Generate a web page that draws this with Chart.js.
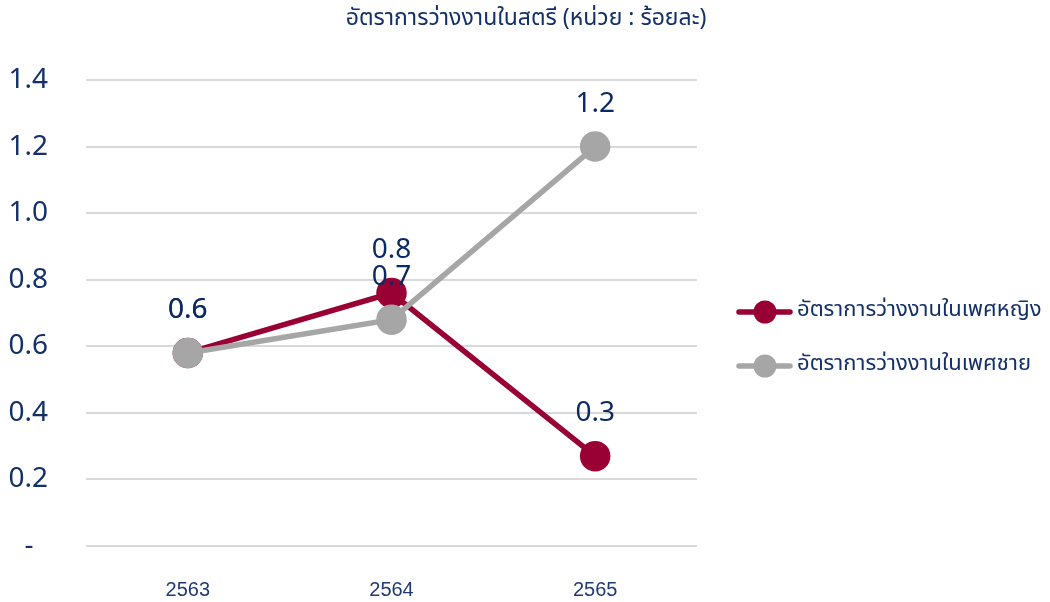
<!DOCTYPE html>
<html>
<head>
<meta charset="utf-8">
<script src="https://cdn.jsdelivr.net/npm/chart.js@4.4.1/dist/chart.umd.min.js"></script>
<style>
  html, body { margin: 0; padding: 0; background: #ffffff; }
  #wrap { width: 1050px; height: 602px; }
</style>
</head>
<body>
<div id="wrap"><canvas id="unemp"></canvas></div>
<script>
var years = ['2563', '2564', '2565'];
var female = [0.58, 0.76, 0.27];
var male = [0.58, 0.68, 1.20];
var seriesNames = ['อัตราการว่างงานในเพศหญิง', 'อัตราการว่างงานในเพศชาย'];
var titleText = 'อัตราการว่างงานในสตรี (หน่วย : ร้อยละ)';

var navy = '#13306b';
var thaiFont = "'Noto Sans Thai', 'Noto Sans', Tahoma, sans-serif";

// value labels above every point
var pointLabels = {
  id: 'pointLabels',
  afterDatasetsDraw: function(chart){
    var ctx = chart.ctx;
    ctx.save();
    ctx.font = "28px 'Noto Sans', sans-serif";
    ctx.fillStyle = '#0b2a63';
    ctx.textAlign = 'center';
    ctx.textBaseline = 'middle';
    chart.data.datasets.forEach(function(ds, i){
      var meta = chart.getDatasetMeta(i);
      meta.data.forEach(function(pt, j){
        ctx.fillText(ds.data[j].toFixed(1), pt.x, pt.y - 43);
      });
    });
    ctx.restore();
  }
};

// title centred on the whole canvas, legend on the right (line with a dot + name)
var sideLegend = {
  id: 'sideLegend',
  afterDraw: function(chart){
    var ctx = chart.ctx;
    var area = chart.chartArea;
    var x0 = area.right + 40;
    ctx.save();
    ctx.fillStyle = navy;
    ctx.font = "23px " + thaiFont;
    ctx.textAlign = 'center';
    ctx.textBaseline = 'middle';
    ctx.fillText(titleText, chart.width / 2 + 1, 20);

    chart.data.datasets.forEach(function(ds, i){
      var y = area.top + 232 + i * 54;
      ctx.strokeStyle = ds.borderColor;
      ctx.fillStyle = ds.borderColor;
      ctx.lineWidth = 5.5;
      ctx.lineCap = 'round';
      ctx.beginPath();
      ctx.moveTo(x0 + 2, y);
      ctx.lineTo(x0 + 53, y);
      ctx.stroke();
      ctx.beginPath();
      ctx.arc(x0 + 28, y, 11.5, 0, Math.PI * 2);
      ctx.fill();
      ctx.fillStyle = navy;
      ctx.font = "22px " + thaiFont;
      ctx.textAlign = 'left';
      ctx.textBaseline = 'middle';
      ctx.fillText(ds.label, x0 + 60, y);
    });
    ctx.restore();
  }
};

var ctx = document.getElementById('unemp');
var myChart = new Chart(ctx, {
  type: 'line',
  data: {
    labels: years,
    datasets: [{
      label: seriesNames[0],
      data: female,
      borderColor: '#990033',
      backgroundColor: '#990033',
      borderWidth: 5.5,
      pointRadius: 12.5,
      pointHoverRadius: 12.5,
      order: 1
    }, {
      label: seriesNames[1],
      data: male,
      borderColor: '#a6a6a6',
      backgroundColor: '#a6a6a6',
      borderWidth: 5.5,
      pointRadius: 12.5,
      pointHoverRadius: 12.5,
      order: 0
    }]
  },
  options: {
    responsive: true,
    maintainAspectRatio: false,
    animation: false,
    layout: { padding: { left: 8, right: 353, top: 80, bottom: 0 } },
    scales: {
      x: {
        offset: true,
        grid: { display: false, drawTicks: false },
        border: { display: false },
        ticks: {
          color: '#1f3a75',
          padding: 32,
          font: { family: "'Liberation Sans', Arial, sans-serif", size: 20 }
        },
        afterFit: function(s){ s.height = 56; }
      },
      y: {
        min: 0,
        max: 1.4,
        grid: { color: '#d9d9d9', lineWidth: 2, drawTicks: false },
        border: { display: false },
        ticks: {
          stepSize: 0.2,
          color: navy,
          padding: 38,
          font: { family: "'Noto Sans', sans-serif", size: 28 },
          callback: function(v){ return v === 0 ? '-  ' : v.toFixed(1); }
        },
        afterFit: function(s){ s.width = 78; }
      }
    },
    plugins: {
      title: { display: false },
      legend: { display: false },
      tooltip: { enabled: false }
    }
  },
  plugins: [pointLabels, sideLegend]
});
</script>
</body>
</html>
